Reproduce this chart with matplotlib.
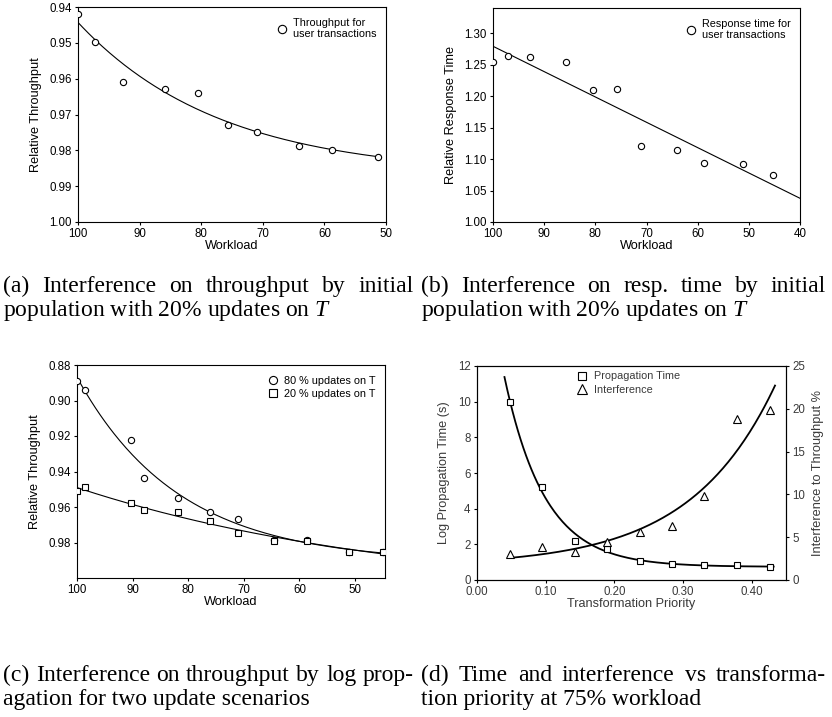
import numpy as np
import matplotlib
matplotlib.use('Agg')
import matplotlib.pyplot as plt
from matplotlib.ticker import FormatStrFormatter
from matplotlib.lines import Line2D

plt.rcParams['font.family'] = ['Liberation Sans', 'DejaVu Sans']
plt.rcParams['mathtext.fontset'] = 'custom'
plt.rcParams['mathtext.rm'] = 'Liberation Serif'
plt.rcParams['mathtext.it'] = 'Liberation Serif:italic'

# (a) throughput vs workload, initial population
a_workload = [100, 97.2, 92.7, 85.8, 80.6, 75.7, 71.0, 64.1, 58.7, 51.3]
a_throughput = [0.9419, 0.9499, 0.9609, 0.9630, 0.9639, 0.9730, 0.9749, 0.9789, 0.9799, 0.9819]

# (b) response time vs workload
b_workload = [100, 97.1, 92.7, 85.8, 80.5, 75.7, 71.0, 64.1, 58.7, 51.2, 45.2]
b_response = [1.255, 1.264, 1.262, 1.255, 1.210, 1.212, 1.121, 1.114, 1.093, 1.092, 1.074]

# (c) log propagation, two update scenarios
c_workload = [100, 98.5, 90.2, 87.9, 81.8, 76.0, 71.0, 64.5, 58.7, 51.0, 44.9]
c_upd80 = [0.8888, 0.8939, 0.9220, 0.9439, 0.9549, 0.9630, 0.9669, 0.9785, 0.9787, 0.9851, 0.9851]
c_upd20 = [0.9510, 0.9489, 0.9579, 0.9618, 0.9630, 0.9680, 0.9749, 0.9790, 0.9789, 0.9851, 0.9851]

# (d) transformation priority at 75% workload
d_priority = [0.048, 0.095, 0.143, 0.190, 0.237, 0.284, 0.331, 0.379, 0.426]
d_prop_time = [9.97, 5.21, 2.17, 1.72, 1.08, 0.91, 0.86, 0.82, 0.73]
d_interference = [3.0, 3.82, 3.31, 4.40, 5.61, 6.31, 9.85, 18.8, 19.9]

captions = [
    ("(a) Interference on throughput by initial", "population with 20% updates on $T$"),
    ("(b) Interference on resp. time by initial", "population with 20% updates on $T$"),
    ("(c) Interference on throughput by log prop-", "agation for two update scenarios"),
    ("(d) Time and interference vs transforma-", "tion priority at 75% workload"),
]

W, H = 832, 717
TICK = 8.3
LABEL = 9.2
LEG = 7.8


def exp_fit(x, y, xs):
    """Least squares fit of y = c + A*exp(k*x), grid search over k."""
    x = np.asarray(x, float)
    y = np.asarray(y, float)
    xm = x.mean()
    span = np.ptp(x)
    best = None
    for k in np.linspace(-12, 12, 2401) / span:
        if abs(k) < 1e-9:
            continue
        M = np.column_stack([np.ones_like(x), np.exp(k * (x - xm))])
        coef, *_ = np.linalg.lstsq(M, y, rcond=None)
        err = np.sum((M @ coef - y) ** 2)
        if best is None or err < best[0]:
            best = (err, k, coef)
    _, k, coef = best
    return coef[0] + coef[1] * np.exp(k * (np.asarray(xs) - xm))


def style_axes(ax, color='black'):
    ax.tick_params(direction='out', length=2.5, width=0.8, pad=2,
                   labelsize=TICK, colors=color)
    ax.tick_params(axis='both', which='both', color='black')
    for s in ax.spines.values():
        s.set_linewidth(0.8)


def px_axes(l, t, r, b):
    return fig.add_axes([l / W, 1 - b / H, (r - l) / W, (b - t) / H])


fig = plt.figure(figsize=(W / 100, H / 100), dpi=100)
mk = dict(mfc='white', mec='black', mew=0.8, ls='none', ms=4.5, zorder=3)

# ---- (a)
ax = px_axes(78, 7, 386, 222)
xs = np.linspace(min(a_workload), max(a_workload), 200)
ax.plot(xs, exp_fit(a_workload, a_throughput, xs), color='black', lw=0.8)
ax.plot(a_workload, a_throughput, marker='o', **mk)
ax.set_xlim(100, 50)
ax.set_ylim(1.0, 0.94)
ax.set_yticks(np.arange(0.94, 1.001, 0.01))
ax.yaxis.set_major_formatter(FormatStrFormatter('%.2f'))
ax.set_xlabel('Workload', fontsize=LABEL, labelpad=0)
ax.set_ylabel('Relative Throughput', fontsize=LABEL, labelpad=5)
style_axes(ax)
ax.legend(handles=[Line2D([], [], marker='o', **{**mk, 'ms': 6})],
          labels=['Throughput for\nuser transactions'], loc='upper right',
          bbox_to_anchor=(1.0, 0.995), frameon=False, fontsize=LEG,
          handlelength=1.0, handletextpad=0.5)

# ---- (b)
ax = px_axes(493, 8, 800, 222)
xs = np.array([100, 40])
p = np.polyfit(b_workload, b_response, 1)
ax.plot(xs, np.polyval(p, xs), color='black', lw=0.8)
ax.plot(b_workload, b_response, marker='o', **mk)
ax.set_xlim(100, 40)
ax.set_ylim(1.0, 1.34)
ax.set_yticks(np.arange(1.0, 1.301, 0.05))
ax.yaxis.set_major_formatter(FormatStrFormatter('%.2f'))
ax.set_xlabel('Workload', fontsize=LABEL, labelpad=0)
ax.set_ylabel('Relative Response Time', fontsize=LABEL, labelpad=5)
style_axes(ax)
ax.legend(handles=[Line2D([], [], marker='o', **{**mk, 'ms': 6})],
          labels=['Response time for\nuser transactions'], loc='upper right',
          bbox_to_anchor=(1.0, 0.995), frameon=False, fontsize=LEG,
          handlelength=1.0, handletextpad=0.5)

# ---- (c)
ax = px_axes(77, 365, 385, 578)
xs = np.linspace(min(c_workload), max(c_workload), 200)
ax.plot(xs, exp_fit(c_workload, c_upd80, xs), color='black', lw=0.8)
ax.plot(xs, exp_fit(c_workload, c_upd20, xs), color='black', lw=0.8)
ax.plot(c_workload, c_upd80, marker='o', label='80 % updates on T', **mk)
ax.plot(c_workload, c_upd20, marker='s', label='20 % updates on T', **mk)
ax.set_xlim(100, 44.6)
ax.set_ylim(1.0, 0.88)
ax.set_xticks(np.arange(100, 49, -10))
ax.set_yticks(np.arange(0.88, 0.981, 0.02))
ax.yaxis.set_major_formatter(FormatStrFormatter('%.2f'))
ax.set_xlabel('Workload', fontsize=LABEL, labelpad=0)
ax.set_ylabel('Relative Throughput', fontsize=LABEL, labelpad=5)
style_axes(ax)
ax.legend(loc='upper right', bbox_to_anchor=(1.0, 0.995), frameon=False,
          fontsize=LEG, handlelength=1.0, handletextpad=0.5, markerscale=1.3,
          labelspacing=0.25)

# ---- (d)
grey = '#3a3a3a'
ax = px_axes(477, 366, 786, 580)
ax2 = ax.twinx()
xs = np.linspace(0.040, 0.432, 200)
ax.plot(xs, exp_fit(d_priority, d_prop_time, xs), color='black', lw=1.3)
xs = np.linspace(0.047, 0.434, 200)
ax2.plot(xs, exp_fit(d_priority, d_interference, xs), color='black', lw=1.3)
ax.plot(d_priority, d_prop_time, marker='s', **{**mk, 'ms': 4.2})
ax2.plot(d_priority, d_interference, marker='^', **{**mk, 'ms': 5.5})
ax.set_xlim(0, 0.45)
ax.set_ylim(0, 12)
ax2.set_ylim(0, 25)
ax.set_xticks(np.arange(0, 0.41, 0.1))
ax.xaxis.set_major_formatter(FormatStrFormatter('%.2f'))
ax.set_yticks(np.arange(0, 13, 2))
ax2.set_yticks(np.arange(0, 26, 5))
ax.set_xlabel('Transformation Priority', fontsize=LABEL, color=grey, labelpad=0)
ax.set_ylabel('Log Propagation Time (s)', fontsize=LABEL, color=grey, labelpad=6)
ax2.set_ylabel('Interference to Throughput %', fontsize=LABEL, color=grey, labelpad=5)
style_axes(ax, grey)
style_axes(ax2, grey)
ax.legend(handles=[Line2D([], [], marker='s', **{**mk, 'ms': 6}),
                   Line2D([], [], marker='^', **{**mk, 'ms': 7})],
          labels=['Propagation Time', 'Interference'], loc='upper left',
          bbox_to_anchor=(0.29, 1.02), frameon=False, fontsize=LEG,
          handlelength=1.0, handletextpad=0.6, labelspacing=0.3,
          labelcolor=grey)

# ---- captions
CAP = 17
serif = 'Liberation Serif'
renderer = fig.canvas.get_renderer()


def justified(text, x0, x1, y):
    words = text.split()
    arts = [fig.text(0, 1 - y / H, w, fontsize=CAP, family=serif, va='baseline')
            for w in words]
    widths = [a.get_window_extent(renderer).width for a in arts]
    gap = ((x1 - x0) - sum(widths)) / (len(words) - 1)
    x = x0
    for a, w in zip(arts, widths):
        a.set_x(x / W)
        x += w + gap


cols = [(3, 414), (421, 826)]
rows = [(292, 316), (681, 705)]
for i, (l1, l2) in enumerate(captions):
    x0, x1 = cols[i % 2]
    y1, y2 = rows[i // 2]
    justified(l1, x0, x1, y1)
    fig.text(x0 / W, 1 - y2 / H, l2, fontsize=CAP, family=serif, va='baseline')

fig.savefig('out.png', dpi=100)
